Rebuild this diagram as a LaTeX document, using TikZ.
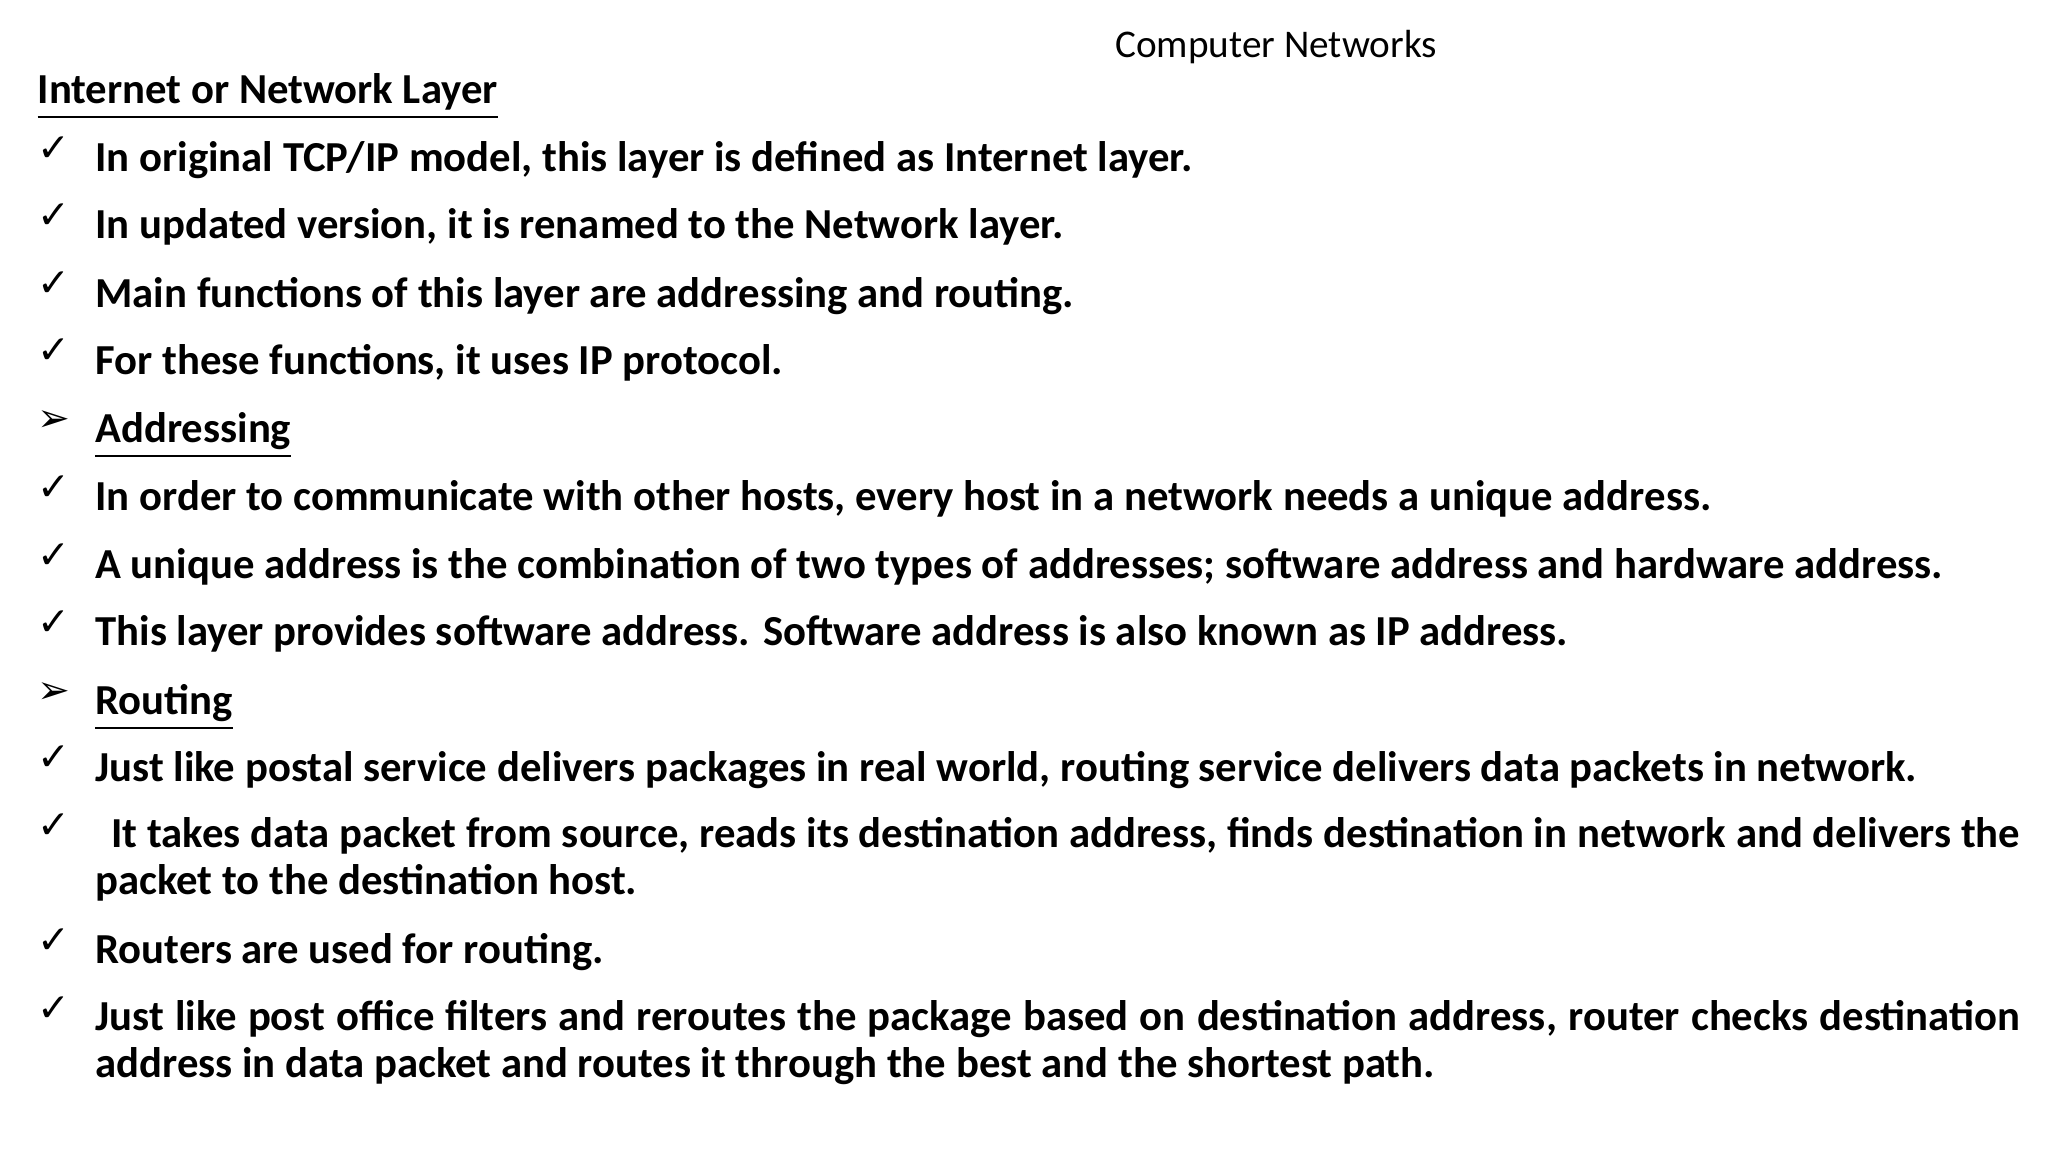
\documentclass[tikz,border=0pt]{standalone}
\usepackage{fontspec}
\setmainfont{Carlito}
\newfontfamily\symf{DejaVu Sans}
\begin{document}
\begin{tikzpicture}[x=1cm,y=1cm,
  txt/.style={anchor=base west,inner sep=0pt,font=\bfseries\fontsize{9.26pt}{10.2pt}\selectfont},
  par/.style={txt,anchor=north west,text width=14.66cm,align=justify},
  mk/.style={anchor=base west,inner sep=0pt,font=\symf\fontsize{8.5pt}{9pt}\selectfont}]
\fill[white] (0,0) rectangle (15.6,-8.775);
\node[anchor=base,inner sep=0pt,font=\fontsize{8.5pt}{10pt}\selectfont] (title) at (9.72,-0.44) {Computer Networks};
\node[txt] (head) at (0.28,-0.79) {\underline{Internet or Network Layer}};
\foreach \y/\m/\t [count=\i] in {
 1.31/✓/{In original TCP/IP model, this layer is defined as Internet layer.},
 1.82/✓/{In updated version, it is renamed to the Network layer.},
 2.34/✓/{Main functions of this layer are addressing and routing.},
 2.85/✓/{For these functions, it uses IP protocol.},
 3.37/➢/{\underline{Addressing}},
 3.89/✓/{In order to communicate with other hosts, every host in a network needs a unique address.},
 4.41/✓/{A unique address is the combination of two types of addresses; software address and hardware address.},
 4.92/✓/{This layer provides software address. Software address is also known as IP address.},
 5.44/➢/{\underline{Routing}},
 5.95/✓/{Just like postal service delivers packages in real world, routing service delivers data packets in network.},
 7.34/✓/{Routers are used for routing.}}
{
 \node[mk] (m\i) at (0.28,-\y+0.08) {\m};
 \node[txt] (t\i) at (0.72,-\y) {\t};
}
\node[mk] (ma) at (0.28,-6.39) {✓};
\node[par] (pa) at (0.72,-6.22) {\hspace{0.12cm}It takes data packet from source, reads its destination address, finds destination in network and delivers the packet to the destination host.};
\node[mk] (mb) at (0.28,-7.78) {✓};
\node[par] (pb) at (0.72,-7.61) {Just like post office filters and reroutes the package based on destination address, router checks destination address in data packet and routes it through the best and the shortest path.};
\end{tikzpicture}
\end{document}
